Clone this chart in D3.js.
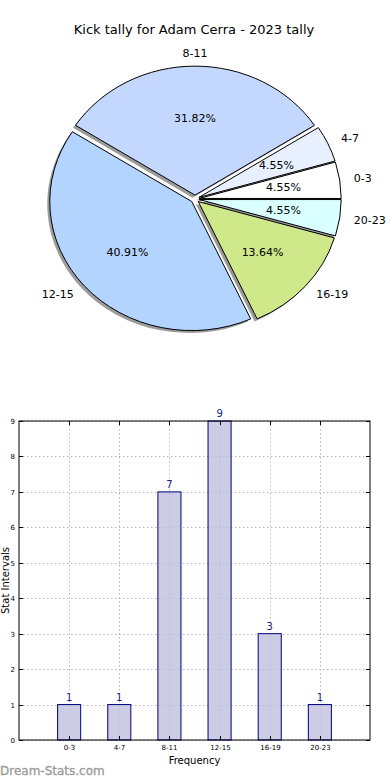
<!DOCTYPE html>
<html><head><meta charset="utf-8">
<script src="https://cdn.jsdelivr.net/npm/d3@7"></script>
<style>body{margin:0;background:#fff}svg{display:block;font-family:"DejaVu Sans",sans-serif}</style>
</head><body><svg id="c" width="390" height="780"></svg>
<script>
const categories = ["0-3","4-7","8-11","12-15","16-19","20-23"];
const counts = [1,1,7,9,3,1];
const sliceColors = ["#ffffff","#e8f0ff","#c4d8ff","#b3d4ff","#cfe88a","#d9ffff"];
const yTicks = [0,1,2,3,4,5,6,7,8,9];
const title = "Kick tally for Adam Cerra - 2023 tally";

const svg = d3.select("#c");
svg.append("text").attr("x",194).attr("y",34).attr("text-anchor","middle")
  .attr("font-size",13).text(title);

// ---- pie ----
const cx = 195, cy = 199, rx = 142, ry = 129, explode = 0.03;
const total = d3.sum(counts);
const pie = d3.pie().sort(null).startAngle(Math.PI/2).endAngle(Math.PI/2 - 2*Math.PI);
const arcs = pie(counts);
const arc = d3.arc().innerRadius(0).outerRadius(1);
const pg = svg.append("g");
arcs.forEach((a,i)=>{
  const mid = Math.PI/2 - (a.startAngle + a.endAngle)/2; // math angle
  a.theta = mid;
  a.ox = cx + explode*Math.cos(mid)*rx;
  a.oy = cy - explode*Math.sin(mid)*ry;
});
// shadows
arcs.forEach((a,i)=>{
  pg.append("path").attr("d",arc(a))
    .attr("transform",`translate(${a.ox-2.5},${a.oy+2.5}) scale(${rx},${ry})`)
    .attr("fill","#7a7a7a").attr("opacity",0.75);
});
arcs.forEach((a,i)=>{
  pg.append("path").attr("d",arc(a))
    .attr("transform",`translate(${a.ox},${a.oy}) scale(${rx},${ry})`)
    .attr("fill",sliceColors[i]).attr("stroke","#000").attr("stroke-width",1)
    .attr("vector-effect","non-scaling-stroke").attr("stroke-linejoin","round");
});
arcs.forEach((a,i)=>{
  const c = Math.cos(a.theta), s = Math.sin(a.theta);
  const lx = a.ox + 1.1*c*rx, ly = a.oy - 1.1*s*ry;
  pg.append("text").attr("x",lx).attr("y",ly).attr("dy","0.35em")
    .attr("text-anchor", c > 1e-9 ? "start" : (c < -1e-9 ? "end" : "middle"))
    .attr("font-size",11).text(categories[i]);
  const px = a.ox + 0.6*c*rx, py = a.oy - 0.6*s*ry;
  pg.append("text").attr("x",px).attr("y",py).attr("dy","0.35em")
    .attr("text-anchor","middle").attr("font-size",11)
    .text((counts[i]/total*100).toFixed(2)+"%");
});

// ---- bar chart ----
const L = 19, R = 370, T = 421, B = 740;
const x = d3.scaleLinear().domain([-1,6]).range([L,R]);
const y = d3.scaleLinear().domain([0,9]).range([B,T]);
const bg = svg.append("g");
const grid = bg.append("g").attr("stroke","#b8b8b8").attr("stroke-dasharray","1.5,2.5").attr("stroke-width",1);
yTicks.forEach(t=>grid.append("line").attr("x1",L).attr("x2",R).attr("y1",Math.round(y(t))+0.5).attr("y2",Math.round(y(t))+0.5));
categories.forEach((c,i)=>grid.append("line").attr("x1",Math.round(x(i))+0.5).attr("x2",Math.round(x(i))+0.5).attr("y1",T).attr("y2",B));
const bw = 0.46;
categories.forEach((c,i)=>{
  const x0 = x(i-bw/2), x1 = x(i+bw/2);
  bg.append("rect").attr("x",x0).attr("y",y(counts[i])).attr("width",x1-x0).attr("height",y(0)-y(counts[i]))
    .attr("fill","#bfbfdd").attr("fill-opacity",0.8).attr("stroke","#000080").attr("stroke-width",1);
  bg.append("text").attr("x",x(i)).attr("y",y(counts[i])-4).attr("text-anchor","middle")
    .attr("font-size",10).attr("fill","#1a1a8c").text(counts[i]);
});
// frame
bg.append("rect").attr("x",L).attr("y",T).attr("width",R-L).attr("height",B-T).attr("fill","none").attr("stroke","#000").attr("stroke-width",1);
// ticks
const tk = bg.append("g").attr("stroke","#000").attr("stroke-width",1);
yTicks.forEach(t=>{
  const yy = Math.round(y(t))+0.5;
  tk.append("line").attr("x1",L).attr("x2",L+4).attr("y1",yy).attr("y2",yy);
  tk.append("line").attr("x1",R-4).attr("x2",R).attr("y1",yy).attr("y2",yy);
  bg.append("text").attr("x",L-4).attr("y",yy).attr("dy","0.35em").attr("text-anchor","end").attr("font-size",7).text(t);
});
categories.forEach((c,i)=>{
  const xx = Math.round(x(i))+0.5;
  tk.append("line").attr("x1",xx).attr("x2",xx).attr("y1",B).attr("y2",B-4);
  tk.append("line").attr("x1",xx).attr("x2",xx).attr("y1",T).attr("y2",T+4);
  bg.append("text").attr("x",xx).attr("y",B+10).attr("text-anchor","middle").attr("font-size",7).text(c);
});
bg.append("text").attr("x",(L+R)/2).attr("y",764).attr("text-anchor","middle").attr("font-size",10).text("Frequency");
bg.append("text").attr("transform",`translate(9,${(T+B)/2}) rotate(-90)`).attr("text-anchor","middle").attr("font-size",10).text("Stat Intervals");
svg.append("text").attr("x",0).attr("y",775).attr("font-size",12).attr("fill","#999").attr("stroke","#999").attr("stroke-width",0.3).text("Dream-Stats.com");
</script></body></html>
